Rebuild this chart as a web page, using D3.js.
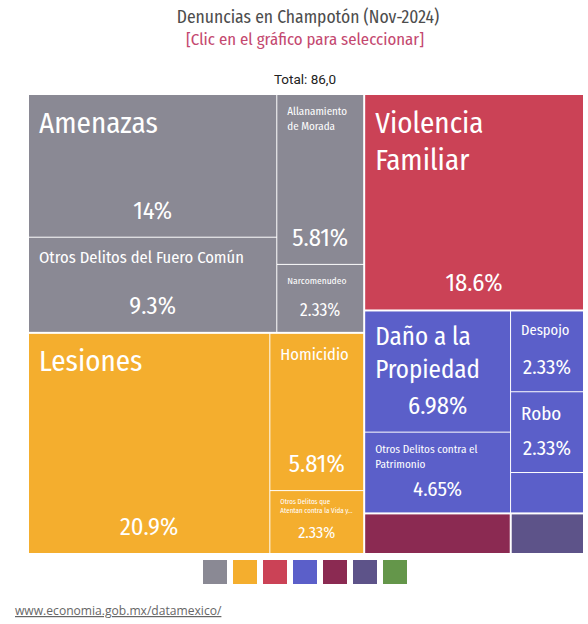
<!DOCTYPE html>
<html>
<head>
<meta charset="utf-8">
<script src="https://cdn.jsdelivr.net/npm/d3@7"></script>
<style>
  body { margin: 0; background: #fff; }
  svg text { font-family: "Fira Sans Condensed", "Liberation Sans Narrow", "DejaVu Sans Condensed", "Roboto Condensed", sans-serif; }
</style>
</head>
<body>
<div id="treemap"></div>
<script>
// grupos de delitos (colores de la leyenda)
const groups = [
    "Otros bienes jurídicos afectados",
    "La vida y la integridad corporal",
    "La familia",
    "El patrimonio",
    "La sociedad",
    "La libertad y la seguridad sexual",
    "Libertad personal"
];
const groupColors = ["#8a8994", "#f4ae2e", "#cb4256", "#5b5fc9", "#8b2a52", "#5d5389", "#64964a"];

const crimes = [
    "Amenazas",
    "Otros Delitos del Fuero Común",
    "Allanamiento de Morada",
    "Narcomenudeo",
    "Lesiones",
    "Homicidio",
    "Otros Delitos que Atentan contra la Vida y la Integridad Corporal",
    "Violencia Familiar",
    "Daño a la Propiedad",
    "Otros Delitos contra el Patrimonio",
    "Despojo",
    "Robo",
    "Fraude",
    "Otros Delitos contra la Sociedad",
    "Abuso Sexual"
];
const crimeGroup = [0, 0, 0, 0, 1, 1, 1, 2, 3, 3, 3, 3, 3, 4, 5];
const crimeCount = [12, 8, 5, 2, 18, 5, 2, 16, 6, 4, 2, 2, 1, 2, 1];

// tamaño de letra de cada etiqueta
const titleSize = {
    "Amenazas": 29,
    "Otros Delitos del Fuero Común": 16.5,
    "Allanamiento de Morada": 11,
    "Narcomenudeo": 9.5,
    "Lesiones": 29,
    "Homicidio": 16.5,
    "Otros Delitos que Atentan contra la Vida y la Integridad Corporal": 7,
    "Violencia Familiar": 29,
    "Daño a la Propiedad": 25,
    "Otros Delitos contra el Patrimonio": 11.2,
    "Despojo": 14.5,
    "Robo": 19
};

const W = 588, H = 624;
const box = { x0: 29, y0: 95, x1: 583, y1: 553 };
const total = d3.sum(crimeCount);

const svg = d3.select("#treemap").append("svg")
    .attr("width", W)
    .attr("height", H);

svg.append("text")
    .attr("x", 308).attr("y", 23)
    .attr("text-anchor", "middle")
    .attr("fill", "#4d4d4d")
    .style("font-size", "17.5px")
    .text("Denuncias en Champotón (Nov-2024)");

svg.append("text")
    .attr("x", 305).attr("y", 45)
    .attr("text-anchor", "middle")
    .attr("fill", "#c4486f")
    .style("font-size", "16.8px")
    .text("[Clic en el gráfico para seleccionar]");

svg.append("text")
    .attr("x", 305).attr("y", 84)
    .attr("text-anchor", "middle")
    .attr("fill", "#222")
    .style("font-family", "Roboto, sans-serif")
    .style("font-size", "13.5px")
    .text("Total: " + d3.format(".1f")(total).replace(".", ","));

const color = d3.scaleOrdinal().domain(groups).range(groupColors);

const treeData = {
    name: "Total",
    children: groups.map((g, i) => ({
        name: g,
        children: crimes
            .map((c, j) => ({ name: c, value: crimeCount[j], group: crimeGroup[j] }))
            .filter(d => d.group === i)
    })).filter(g => g.children.length)
};

const root = d3.hierarchy(treeData)
    .sum(d => d.value || 0)
    .sort((a, b) => b.value - a.value);

d3.treemap()
    .tile(d3.treemapSquarify)
    .size([box.x1 - box.x0, box.y1 - box.y0])
    .paddingInner(d => d.depth === 0 ? 2 : 1)(root);

const pctFmt = d3.format(".3~r");

const cells = svg.append("g")
    .attr("transform", `translate(${box.x0},${box.y0})`)
    .selectAll("g")
    .data(root.leaves())
    .enter().append("g")
    .attr("transform", d => `translate(${d.x0},${d.y0})`);

cells.append("rect")
    .attr("width", d => d.x1 - d.x0)
    .attr("height", d => d.y1 - d.y0)
    .attr("fill", d => color(d.parent.data.name));

cells.each(function(d) {
    const w = d.x1 - d.x0, h = d.y1 - d.y0;
    if (h < 50 || w < 50) return;
    const g = d3.select(this);
    const fs = titleSize[d.data.name] || 10;
    const lh = fs * 1.3;
    const top = fs < 9 ? 6 : 10;
    const avail = w - 20;
    const maxLines = Math.max(1, Math.floor((h - 40) / lh));

    const text = g.append("text")
        .attr("fill", "#fff")
        .style("font-size", fs + "px");

    const probe = text.append("tspan");
    const fits = s => { probe.text(s); return probe.node().getComputedTextLength() <= avail; };

    let lines = [], line = [];
    d.data.name.split(" ").forEach(word => {
        line.push(word);
        if (!fits(line.join(" ")) && line.length > 1) {
            line.pop();
            lines.push(line.join(" "));
            line = [word];
        }
    });
    lines.push(line.join(" "));

    if (lines.length > maxLines) {
        lines = lines.slice(0, maxLines);
        let last = lines[maxLines - 1].split(" ");
        while (last.length > 1 && !fits(last.join(" ") + "...")) last.pop();
        lines[maxLines - 1] = last.join(" ") + "...";
    }
    probe.remove();

    lines.forEach((l, i) => {
        text.append("tspan")
            .attr("x", 10)
            .attr("y", top + fs * 0.95 + i * lh)
            .text(l);
    });

    const pfs = Math.min(24.5, h * 0.26);
    g.append("text")
        .attr("x", w / 2)
        .attr("y", h - 0.35 * pfs - 9.5)
        .attr("text-anchor", "middle")
        .attr("fill", "#fff")
        .style("font-size", pfs + "px")
        .text(pctFmt(d.value / total * 100) + "%");
});

// leyenda
const legendX = d3.scaleBand()
    .domain(groups)
    .range([203, 407])
    .paddingInner(0.2);

svg.append("g")
    .selectAll("rect")
    .data(groups)
    .enter().append("rect")
    .attr("x", d => legendX(d))
    .attr("y", 560)
    .attr("width", legendX.bandwidth())
    .attr("height", legendX.bandwidth())
    .attr("fill", d => color(d));

svg.append("text")
    .attr("x", 15).attr("y", 615)
    .attr("fill", "#666")
    .style("font-family", "'Open Sans', sans-serif")
    .style("font-size", "12.1px")
    .style("text-decoration", "underline")
    .text("www.economia.gob.mx/datamexico/");
</script>
</body>
</html>
